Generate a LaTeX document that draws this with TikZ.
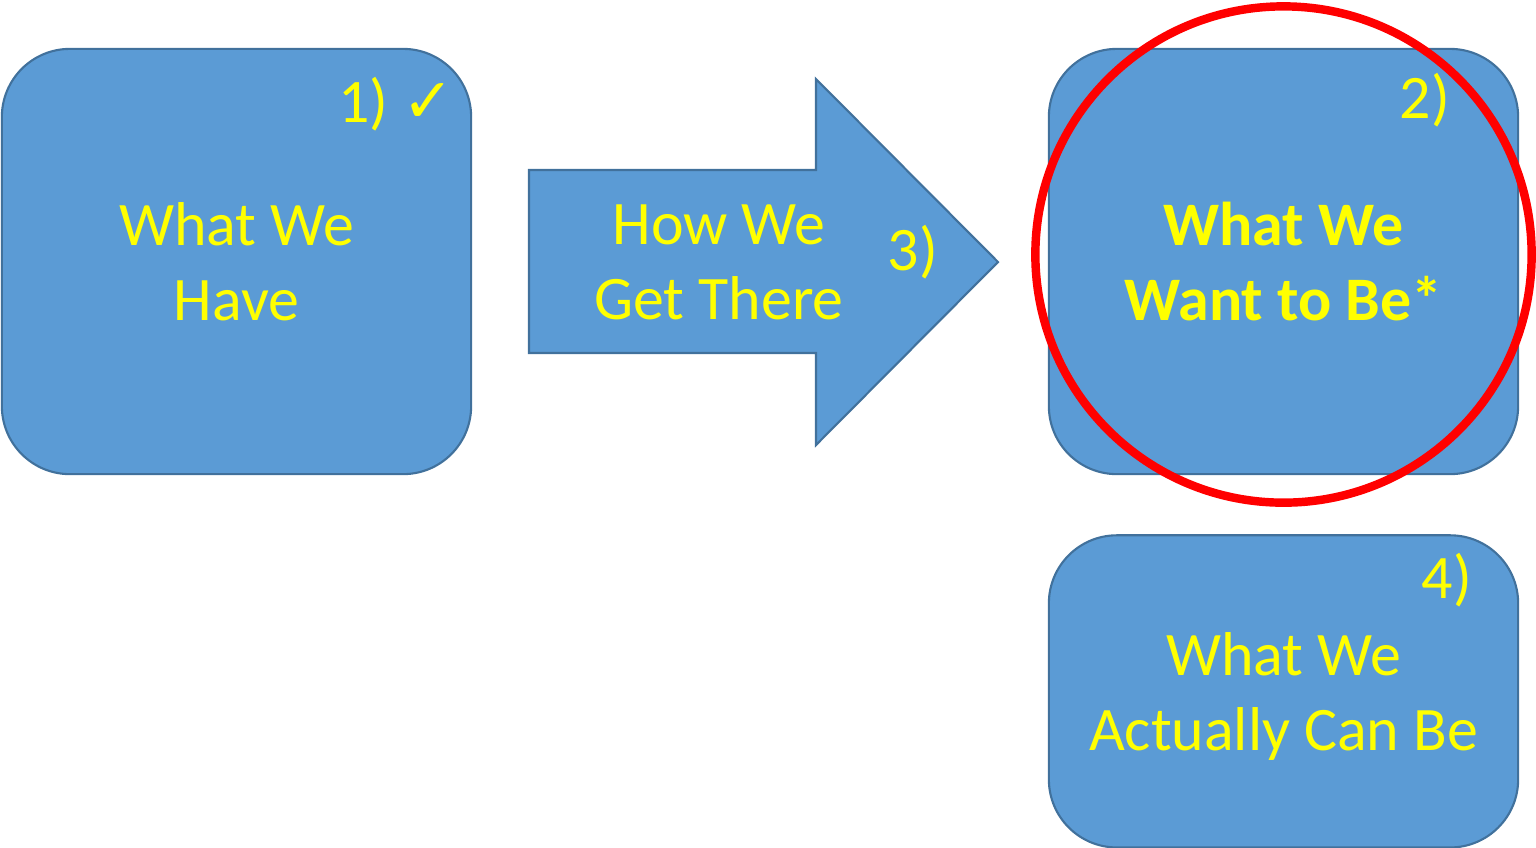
\documentclass[tikz,border=0pt]{standalone}
\usepackage{fontspec}
\setmainfont{Carlito}
\newfontfamily\checkfont{DejaVu Sans}
\usepackage{tikz}
\usetikzlibrary{positioning}
\definecolor{boxblue}{HTML}{5B9BD5}
\definecolor{boxline}{HTML}{41719C}
\definecolor{txtyellow}{HTML}{FFFF00}
\definecolor{ringred}{HTML}{FF0000}

\begin{document}
\begin{tikzpicture}
                [x=0.01cm, y=-0.01cm,
                every node/.style={text=txtyellow,font=\fontsize{17.6pt}{21.3pt}\selectfont},
                box/.style={draw=boxline,fill=boxblue,line width=0.6pt,rounded corners=0.68cm,
                    minimum width=4.69cm,align=center,text depth=0pt},
                lbl/.style={align=center,text depth=0pt,inner sep=0pt},
                num/.style={anchor=base,inner sep=0pt},
                ring/.style={draw=ringred,line width=2.4pt}]
                \useasboundingbox (0,0) rectangle (1536,847);
                % the three boxes
                \node[box,minimum height=4.25cm] (have) at (236.5,261.5) {What We\\Have};
                \node[box,minimum height=4.25cm] (want) at (1283.5,261.5) {\bfseries What We\\\bfseries Want to Be*};
                \node[box,minimum height=3.12cm,below=0.59cm of want] (can) {What We\\Actually Can Be};
                % the arrow
                \draw[draw=boxline,fill=boxblue,line width=0.6pt]
                (529,170) -- (816,170) -- (816,79) -- (998,262) -- (816,445) -- (816,353) -- (529,353) -- cycle;
                \node[lbl] (how) at (719,262) {How We\\Get There};
                % numbers
                \node[num] (n1) at (396,122) {1) {\checkfont\bfseries ✓}};
                \node[num] (n2) at (1425,118) {2)};
                \node[num] (n3) at (913,270) {3)};
                \node[num] (n4) at (1447,598) {4)};
                \draw[ring] (1283.5,254.5) circle [radius=2.48cm];
            \end{tikzpicture}
\end{document}
